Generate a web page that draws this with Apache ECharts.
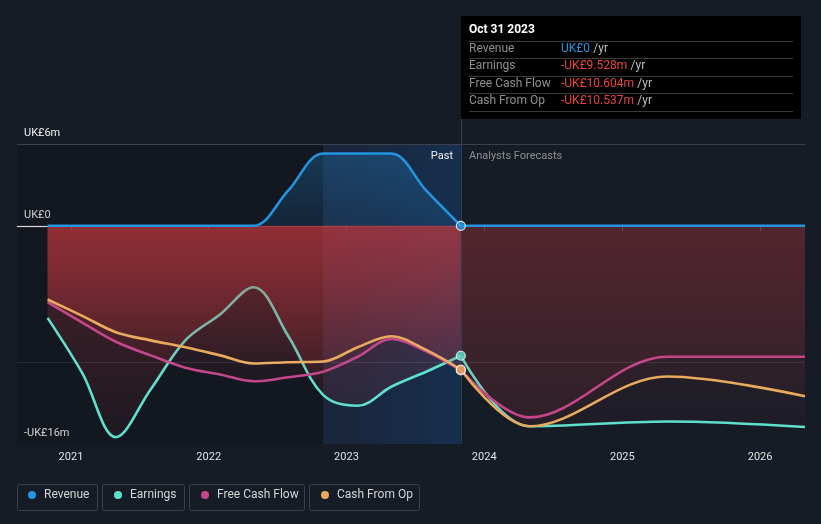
<!DOCTYPE html>
<html>
<head>
<meta charset="utf-8">
<script src="https://cdn.jsdelivr.net/npm/echarts@6/dist/echarts.min.js"></script>
<style>
html,body{margin:0;padding:0;background:#161c26;}
#chart{width:821px;height:524px;}
</style>
</head>
<body>
<div id="chart"></div>
<script>
// ---- data (values in UK£ millions) ----
const pastDates = ['2020-10-31','2021-01-31','2021-04-30','2021-07-31','2021-10-31','2022-01-31','2022-04-30','2022-07-31','2022-10-31','2023-01-31','2023-04-30','2023-07-31','2023-10-31'];
const revenuePast  = [0, 0, 0, 0, 0, 0, 0, 2.6, 5.3, 5.3, 5.3, 2.6, 0];
const earningsPast = [-6.75, -10.8, -15.5, -12.0, -8.4, -6.5, -4.5, -8.1, -12.4, -13.2, -11.8, -10.7, -9.528];
const fcfPast      = [-5.6, -7.1, -8.5, -9.5, -10.4, -10.9, -11.4, -11.1, -10.7, -9.6, -8.3, -9.2, -10.604];
const cfoPast      = [-5.4, -6.6, -7.8, -8.4, -8.9, -9.5, -10.1, -10.0, -9.95, -8.9, -8.1, -9.1, -10.537];

const forecastDates = ['2023-10-31','2024-04-30','2025-04-30','2026-04-30'];
const revenueFcst  = [0, 0, 0, 0];
const earningsFcst = [-9.528, -14.7, -14.35, -14.75];
const fcfFcst      = [-10.604, -14.05, -9.6, -9.6];
const cfoFcst      = [-10.537, -14.7, -11.05, -12.5];

const seriesNames = ['Revenue','Earnings','Free Cash Flow','Cash From Op'];
const yTickLabels = {6: 'UK£6m', 0: 'UK£0', '-16': '-UK£16m'};
const axisStart = '2020-08-11';
const axisEnd = '2026-04-30';
const highlightStart = '2022-10-31';
const todayDate = '2023-10-31';
const tooltipTitle = 'Oct 31 2023';

// ---- styles ----
const COLORS = {
  'Revenue': '#2394df',
  'Earnings': '#5fe0cd',
  'Free Cash Flow': '#c4478b',
  'Cash From Op': '#e9aa5d'
};
const Z = {'Earnings': 2, 'Free Cash Flow': 3, 'Cash From Op': 4, 'Revenue': 5};
const FONT = 'Roboto, "Noto Sans", sans-serif';

const pair = (dates, vals) => dates.map((d, i) => [d, vals[i]]);
const redGrad = (a0, a1) => new echarts.graphic.LinearGradient(0, 0, 0, 1, [
  {offset: 0, color: 'rgba(214,58,64,' + a0 + ')'},
  {offset: 1, color: 'rgba(214,58,64,' + a1 + ')'}
]);

function lineSeries(name, dates, vals, area) {
  return {
    name: name, type: 'line', data: pair(dates, vals),
    smooth: 0.35, symbol: 'none', z: Z[name],
    lineStyle: {color: COLORS[name], width: 2.6},
    itemStyle: {color: COLORS[name]},
    areaStyle: area,
    emphasis: {disabled: true}, silent: true
  };
}

const last = a => a[a.length - 1];
function fmt(v) {
  if (v === 0) return 'UK£0';
  return (v < 0 ? '-' : '') + 'UK£' + Math.abs(v).toFixed(3) + 'm';
}

const series = [
  {
    name: 'bg', type: 'line', data: [], z: 1, silent: true,
    markArea: {
      silent: true,
      data: [
        [{xAxis: 'min', itemStyle: {color: 'rgba(0,0,0,0.15)'}}, {xAxis: highlightStart}],
        [{xAxis: highlightStart, itemStyle: {color: new echarts.graphic.LinearGradient(0, 0, 1, 0, [
          {offset: 0, color: 'rgba(0,40,90,0.15)'},
          {offset: 1, color: 'rgba(0,60,120,0.38)'}])}}, {xAxis: todayDate}]
      ]
    },
    markLine: {
      silent: true, symbol: ['none', 'none'], label: {show: false},
      data: [
        {yAxis: 6, lineStyle: {color: '#3c424c', width: 1, type: 'solid'}},
        {yAxis: -10, lineStyle: {color: 'rgba(255,255,255,0.09)', width: 1, type: 'solid'}},
        [{coord: [axisStart, 0], lineStyle: {color: '#d8d8d8', width: 1.2, type: 'solid'}}, {coord: [pastDates[0], 0]}]
      ]
    }
  },
  lineSeries('Earnings', pastDates, earningsPast, {color: redGrad(0.42, 0.08)}),
  lineSeries('Free Cash Flow', pastDates, fcfPast, {color: redGrad(0.42, 0.08)}),
  lineSeries('Cash From Op', pastDates, cfoPast, {color: redGrad(0.42, 0.08)}),
  lineSeries('Earnings', forecastDates, earningsFcst, {color: redGrad(0.17, 0.06)}),
  lineSeries('Free Cash Flow', forecastDates, fcfFcst, {color: redGrad(0.17, 0.06)}),
  lineSeries('Cash From Op', forecastDates, cfoFcst, {color: redGrad(0.17, 0.06)}),
  lineSeries('Revenue', pastDates, revenuePast, {color: new echarts.graphic.LinearGradient(0, 0, 0, 1, [
    {offset: 0, color: 'rgba(35,140,220,0.40)'},
    {offset: 1, color: 'rgba(35,140,220,0.18)'}])}),
  lineSeries('Revenue', forecastDates, revenueFcst, null),
  {
    name: 'band', type: 'line', data: [], z: 6, silent: true,
    markArea: {
      silent: true,
      data: [[{xAxis: highlightStart, itemStyle: {color: 'rgba(95,120,175,0.10)'}}, {xAxis: todayDate}]]
    },
    markLine: {
      silent: true, symbol: ['none', 'none'], label: {show: false},
      data: [{xAxis: todayDate, lineStyle: {color: '#2e4154', width: 1, type: 'solid'}}]
    }
  }
];

[['Free Cash Flow', fcfPast], ['Earnings', earningsPast], ['Cash From Op', cfoPast], ['Revenue', revenuePast]].forEach(([n, arr]) => {
  series.push({
    name: n, type: 'scatter', z: 7, silent: true,
    data: [[last(pastDates), last(arr)]],
    symbolSize: 9,
    itemStyle: {color: COLORS[n], borderColor: '#ffffff', borderWidth: 1.2}
  });
});

const legendLefts = [28, 114, 201, 321];
const legends = seriesNames.map((n, i) => ({
  data: [n], left: legendLefts[i], top: 489, padding: 0,
  icon: 'circle', itemWidth: 8, itemHeight: 8,
  selectedMode: false,
  textStyle: {color: '#d4d4d4', fontSize: 12, fontFamily: FONT, padding: [0, 0, 0, 3]}
}));

const rowY = [49, 66, 84, 101];
const rowVals = [last(revenuePast), last(earningsPast), last(fcfPast), last(cfoPast)];
const panel = [
  {type: 'rect', shape: {x: 461, y: 16, width: 340, height: 103}, style: {fill: '#000'}, z: 10},
  {type: 'text', x: 469, y: 30, style: {text: tooltipTitle, fill: '#fff', font: 'bold 12px ' + FONT, textVerticalAlign: 'middle'}, z: 11}
];
[41, 58, 76, 93, 111].forEach(y => panel.push({
  type: 'line', shape: {x1: 469, y1: y + 0.5, x2: 793, y2: y + 0.5}, style: {stroke: '#3a3a3a', lineWidth: 1}, z: 11
}));
seriesNames.forEach((n, i) => {
  panel.push({type: 'text', x: 469, y: rowY[i], style: {text: n, fill: '#8f8f8f', font: '12px ' + FONT, textVerticalAlign: 'middle'}, z: 11});
  panel.push({type: 'text', x: 561, y: rowY[i], style: {
    text: '{v|' + fmt(rowVals[i]) + '} {u|/yr}', textVerticalAlign: 'middle',
    rich: {
      v: {fill: i === 0 ? '#2394df' : '#e8423f', font: '12px ' + FONT},
      u: {fill: '#bdbdbd', font: '12px ' + FONT}
    }
  }, z: 11});
});

const legendBoxes = [[17, 80], [102, 82], [189, 115], [309, 110]].map(([x, w]) => ({
  type: 'rect', shape: {x: x + 0.5, y: 484.5, width: w, height: 26, r: 2},
  style: {fill: 'none', stroke: '#3b414b', lineWidth: 1}, z: 1
}));

const extra = [
  {type: 'line', shape: {x1: 461.5, y1: 119, x2: 461.5, y2: 144}, style: {stroke: '#2e4154', lineWidth: 1}, z: 1},
  {type: 'text', x: 453, y: 156, style: {text: 'Past', fill: '#f0f0f0', font: '11px ' + FONT, textAlign: 'right', textVerticalAlign: 'middle'}, z: 6},
  {type: 'text', x: 469, y: 156, style: {text: 'Analysts Forecasts', fill: '#8e8e8e', font: '11px ' + FONT, textVerticalAlign: 'middle'}, z: 6}
];

const chart = echarts.init(document.getElementById('chart'), null, {renderer: 'canvas'});
chart.setOption({
  backgroundColor: '#161c26',
  animation: false,
  grid: {left: 17, right: 16, top: 144, bottom: 80, containLabel: false},
  legend: legends,
  xAxis: {
    type: 'time',
    min: axisStart, max: axisEnd,
    splitNumber: 6,
    minInterval: 365 * 24 * 3600 * 1000,
    axisLine: {show: true, lineStyle: {color: '#4a505a', width: 1}},
    axisTick: {show: true, length: 5, lineStyle: {color: '#4a505a'}},
    splitLine: {show: false},
    axisLabel: {
      color: '#e0e0e0', fontSize: 11, fontFamily: FONT, margin: 8,
      formatter: v => { const d = new Date(v); return d.getMonth() === 0 ? String(d.getFullYear()) : ''; }
    }
  },
  yAxis: {
    type: 'value', min: -16, max: 6, interval: 2,
    axisLine: {show: false}, axisTick: {show: false}, splitLine: {show: false},
    axisLabel: {
      inside: true, verticalAlign: 'bottom', margin: 7,
      color: '#f0f0f0', fontSize: 11, fontFamily: FONT, padding: [0, 0, 5, 0],
      formatter: v => yTickLabels[v] || ''
    }
  },
  series: series,
  graphic: panel.concat(legendBoxes, extra)
});
</script>
</body>
</html>
